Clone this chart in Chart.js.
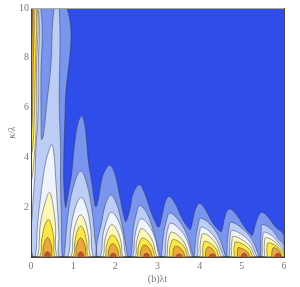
<!DOCTYPE html>
<html>
<head>
<meta charset="utf-8">
<script src="https://cdn.jsdelivr.net/npm/chart.js@4"></script>
<style>
html, body { margin: 0; padding: 0; background: #fff; }
canvas { display: block; }
</style>
</head>
<body>
<canvas id="chart" width="300" height="287"></canvas>
<script>
const xTicks = [0, 1, 2, 3, 4, 5, 6];
const yTicks = [2, 4, 6, 8, 10];

// contour outlines, left to right, lowest level first
const deepX = [0, 0, 6, 6];
const deepY = [0, 10, 10, 0];

const mediumX = [0, 0, .85, .81, .78, .78, .82, .85, .88, .96,
	1.04, 1.12, 1.2, 1.27, 1.32, 1.36, 1.44, 1.5, 1.54, 1.6,
	1.67, 1.75, 1.87, 1.99, 2.11, 2.2, 2.25, 2.35, 2.42, 2.57,
	2.7, 2.82, 2.95, 3.03, 3.1, 3.18, 3.27, 3.4, 3.6, 3.74,
	3.78, 3.85, 3.92, 4.0, 4.12, 4.3, 4.47, 4.52, 4.58, 4.65,
	4.72, 4.85, 5.05, 5.2, 5.25, 5.32, 5.41, 5.47, 5.6, 5.8,
	6, 6];
const mediumY = [0, 10, 10, 6, 4.2, 2.8, 2.0, 2.2, 2.5, 3.3,
	4.64, 5.4, 5.67, 5.35, 4.64, 3.85, 3.0, 2.26, 2.02, 2.34,
	3.06, 3.45, 3.68, 3.33, 2.39, 1.67, 1.43, 1.94, 2.54, 2.9,
	2.54, 1.93, 1.4, 1.2, 1.6, 2.2, 2.43, 2.2, 1.5, 1.15,
	1.1, 1.6, 2.0, 2.15, 1.95, 1.4, 1.05, 1.03, 1.5, 1.85,
	1.93, 1.75, 1.25, .92, .87, 1.3, 1.7, 1.8, 1.65, 1.2,
	.87, 0];

const lightX = [0, .04, 0, 0, .23, .235, .24, .25, .29, .38, .47, .55, .67, .67, .7, .7, .72, .74,
	.78, .88, 1.02, 1.18, 1.33, 1.46, 1.52, 1.545, 1.54, 1.56, 1.555, 1.58,
	1.67, 1.77, 1.90, 2.03, 2.12, 2.23, 2.3,
	2.37, 2.42, 2.5, 2.58, 2.75, 2.93, 3.07,
	3.09, 3.14, 3.22, 3.29, 3.49, 3.7, 3.85,
	3.87, 3.91, 3.97, 4.02, 4.24, 4.46, 4.62,
	4.64, 4.66, 4.7, 4.73, 4.98, 5.24, 5.42,
	5.44, 5.45, 5.46, 5.48, 5.7, 5.88, 6, 6];
const lightY = [0, 0, .4, 10, 10, 7, 5.2, 4.72, 4.84, 6.25, 7.65, 10, 10, 6, 4.5, 3, 1.5, 0,
	0, 1.72, 2.9, 3.45, 2.9, 1.72, .67, .4, 0, 0, .4, .7,
	1.35, 2.14, 2.49, 2.12, 1.6, .67, 0,
	0, 1.03, 1.75, 2.06, 1.75, .9, 0,
	0, .88, 1.5, 1.77, 1.5, .88, 0,
	0, .78, 1.33, 1.56, 1.33, .78, 0,
	0, .7, 1.19, 1.4, 1.19, .7, 0,
	0, .66, 1.11, 1.31, 1.11, .7, .46, 0];

const whiteX = [0, 0, .17, .17, .16, .12, .09, .05, .02, 0, 0,
	.1, .15, .22, .33, .42, .49, .54, .58, .62, .66, .67,
	.87, .95, 1.06, 1.19, 1.31, 1.41, 1.48,
	1.64, 1.71, 1.81, 1.91, 2.05, 2.18, 2.26,
	2.41, 2.46, 2.53, 2.61, 2.78, 2.94, 3.05,
	3.17, 3.2, 3.25, 3.31, 3.5, 3.7, 3.83,
	3.94, 3.96, 4.0, 4.04, 4.24, 4.43, 4.58,
	4.69, 4.71, 4.73, 4.76, 4.99, 5.22, 5.37,
	5.47, 5.48, 5.5, 5.52, 5.72, 5.9, 6, 6];
const whiteY = [0, 10, 10, 7.5, 5.5, 4.5, 3.2, 2.3, 1.5, 1.2, 0,
	0, 1.2, 2.3, 3.65, 4.25, 4.51, 4.2, 3.3, 2.2, .9, 0,
	0, 1.2, 2.03, 2.39, 2.03, 1.2, 0,
	0, .9, 1.53, 1.8, 1.53, .9, 0,
	0, .77, 1.31, 1.54, 1.31, .77, 0,
	0, .68, 1.16, 1.36, 1.16, .68, 0,
	0, .6, 1.02, 1.2, 1.02, .6, 0,
	0, .54, .91, 1.07, .91, .54, 0,
	0, .5, .85, 1.0, .85, .5, .28, 0];

const paleX = [0, 0, .15, .13, .12, .09, .05, 0, 0,
	.15, .22, .34, .44, .51, .58, .63,
	.93, 1.0, 1.08, 1.18, 1.28, 1.36, 1.43,
	1.69, 1.75, 1.83, 1.92, 2.03, 2.13, 2.2,
	2.46, 2.5, 2.56, 2.62, 2.76, 2.9, 3,
	3.21, 3.24, 3.28, 3.33, 3.5, 3.66, 3.78,
	3.99, 4.01, 4.04, 4.08, 4.25, 4.41, 4.53,
	4.73, 4.75, 4.77, 4.79, 5.0, 5.2, 5.33,
	5.52, 5.53, 5.54, 5.56, 5.74, 5.9, 6, 6];
const paleY = [0, 10, 10, 7.5, 5.2, 4.3, 3.5, 2.8, 0,
	0, 1.3, 2.2, 2.59, 2.2, 1.3, 0,
	0, .85, 1.44, 1.69, 1.44, .85, 0,
	0, .65, 1.1, 1.3, 1.1, .65, 0,
	0, .57, .97, 1.14, .97, .57, 0,
	0, .5, .85, 1.0, .85, .5, 0,
	0, .47, .8, .94, .8, .47, 0,
	0, .42, .7, .83, .7, .42, 0,
	0, .39, .66, .78, .66, .4, .2, 0];

const yellowX = [0, 0, .12, .1, .07, .04, 0, 0,
	.2, .26, .33, .41, .48, .54, .59,
	.98, 1.04, 1.1, 1.18, 1.26, 1.32, 1.38,
	1.74, 1.79, 1.85, 1.93, 2.02, 2.1, 2.17,
	2.5, 2.54, 2.59, 2.65, 2.77, 2.88, 2.96,
	3.26, 3.29, 3.33, 3.37, 3.52, 3.65, 3.74,
	4.05, 4.07, 4.09, 4.12, 4.26, 4.39, 4.48,
	4.8, 4.81, 4.83, 4.85, 5.02, 5.18, 5.28,
	5.58, 5.59, 5.6, 5.62, 5.78, 5.92, 6, 6];
const yellowY = [0, 10, 10, 7.5, 5.2, 4.4, 3.9, 0,
	0, .75, 1.28, 1.51, 1.28, .75, 0,
	0, .62, 1.05, 1.24, 1.05, .62, 0,
	0, .44, .75, .88, .75, .44, 0,
	0, .38, .65, .77, .65, .38, 0,
	0, .35, .6, .7, .6, .35, 0,
	0, .32, .54, .63, .54, .32, 0,
	0, .3, .52, .61, .52, .3, 0,
	0, .28, .48, .57, .48, .28, .1, 0];

const orangeX = [0, 0, .07, .05, .03, 0, 0,
	.25, .29, .34, .395, .45, .49, .53,
	1.03, 1.07, 1.12, 1.18, 1.24, 1.29, 1.33,
	1.8, 1.84, 1.88, 1.93, 2.0, 2.06, 2.11,
	2.57, 2.6, 2.64, 2.68, 2.77, 2.84, 2.9,
	3.34, 3.37, 3.39, 3.43, 3.53, 3.61, 3.68,
	4.12, 4.14, 4.17, 4.2, 4.28, 4.35, 4.41,
	4.88, 4.89, 4.9, 4.91, 5.03, 5.14, 5.22,
	5.69, 5.71, 5.73, 5.75, 5.84, 5.91, 5.96, 6];
const orangeY = [0, 10, 10, 7.5, 5.5, 4.6, 0,
	0, .39, .66, .78, .66, .39, 0,
	0, .385, .65, .77, .65, .385, 0,
	0, .27, .46, .54, .46, .27, 0,
	0, .24, .41, .48, .41, .24, 0,
	0, .22, .37, .44, .37, .22, 0,
	0, .2, .35, .41, .35, .2, 0,
	0, .19, .32, .38, .32, .19, 0,
	0, .19, .32, .38, .32, .19, 0, 0];

const redX = [0, 0, .03, .02, 0, 0,
	.31, .335, .39, .445, .47,
	1.10, 1.125, 1.18, 1.235, 1.26,
	1.87, 1.895, 1.95, 2.005, 2.03,
	2.66, 2.685, 2.74, 2.795, 2.82,
	3.43, 3.455, 3.51, 3.565, 3.59,
	4.22, 4.245, 4.30, 4.355, 4.38,
	4.98, 5.005, 5.05, 5.11, 5.14,
	5.78, 5.805, 5.86, 5.915, 5.94, 6];
const redY = [0, 10, 10, 8.5, 7, 0,
	0, .14, .21, .14, 0,
	0, .14, .21, .14, 0,
	0, .1, .15, .1, 0,
	0, .1, .15, .1, 0,
	0, .08, .12, .08, 0,
	0, .08, .12, .08, 0,
	0, .1, .15, .1, 0,
	0, .1, .15, .1, 0, 0];

const fontName = '"Liberation Serif", serif';
const textColor = '#777777';

function contour(xs, ys, color) {
	return {
		data: xs.map((x, i) => ({ x: x, y: ys[i] })),
		showLine: true,
		fill: 'shape',
		backgroundColor: color,
		borderColor: 'rgba(50, 50, 70, 0.6)',
		borderWidth: 0.8,
		tension: 0.4,
		pointRadius: 0
	};
}

// first dataset is painted last, so the highest level goes first
const datasets = [
	contour(redX, redY, '#c8502a'),
	contour(orangeX, orangeY, '#eca83a'),
	contour(yellowX, yellowY, '#fbe843'),
	contour(paleX, paleY, '#fdf8b6'),
	contour(whiteX, whiteY, '#eef3fc'),
	contour(lightX, lightY, '#bccdf6'),
	contour(mediumX, mediumY, '#7a95ee'),
	contour(deepX, deepY, '#2f4de8')
];
datasets[datasets.length - 1].tension = 0;
datasets[datasets.length - 1].borderWidth = 0;

new Chart(document.getElementById('chart'), {
	type: 'scatter',
	data: { datasets: datasets },
	options: {
		responsive: false,
		animation: false,
		layout: { padding: { top: 5, right: 16, bottom: 0, left: 0 } },
		plugins: { legend: { display: false }, tooltip: { enabled: false } },
		scales: {
			x: {
				type: 'linear',
				min: 0,
				max: 6,
				afterBuildTicks: (axis) => { axis.ticks = xTicks.map(v => ({ value: v })); },
				afterFit: (axis) => { axis.height = 30; },
				grid: { display: false, drawTicks: false },
				border: { color: '#444444', width: 1, z: 2 },
				ticks: { color: textColor, font: { family: fontName, size: 10 }, padding: 3, maxRotation: 0 },
				title: { display: true, text: '(b)λt', color: textColor, font: { family: fontName, size: 10 }, padding: { top: 2, bottom: 2 } }
			},
			y: {
				type: 'linear',
				min: 0,
				max: 10,
				afterBuildTicks: (axis) => { axis.ticks = yTicks.map(v => ({ value: v })); },
				afterFit: (axis) => { axis.width = 31; },
				grid: { display: false, drawTicks: false },
				border: { color: '#444444', width: 1, z: 2 },
				ticks: { color: textColor, font: { family: fontName, size: 10 }, padding: 2 },
				title: { display: true, text: 'κ/λ', color: textColor, font: { family: fontName, size: 10, style: 'italic' }, padding: { top: 6, bottom: 0 } }
			},
			xTop: {
				type: 'linear',
				position: 'top',
				min: 0,
				max: 6,
				afterFit: (axis) => { axis.height = 0; },
				ticks: { display: false },
				grid: { display: false, drawTicks: false },
				border: { color: '#aaaaaa', width: 1, z: 2 }
			},
			yRight: {
				type: 'linear',
				position: 'right',
				min: 0,
				max: 10,
				afterFit: (axis) => { axis.width = 0; },
				ticks: { display: false },
				grid: { display: false, drawTicks: false },
				border: { color: '#444444', width: 1, z: 2 }
			}
		}
	}
});
</script>
</body>
</html>
